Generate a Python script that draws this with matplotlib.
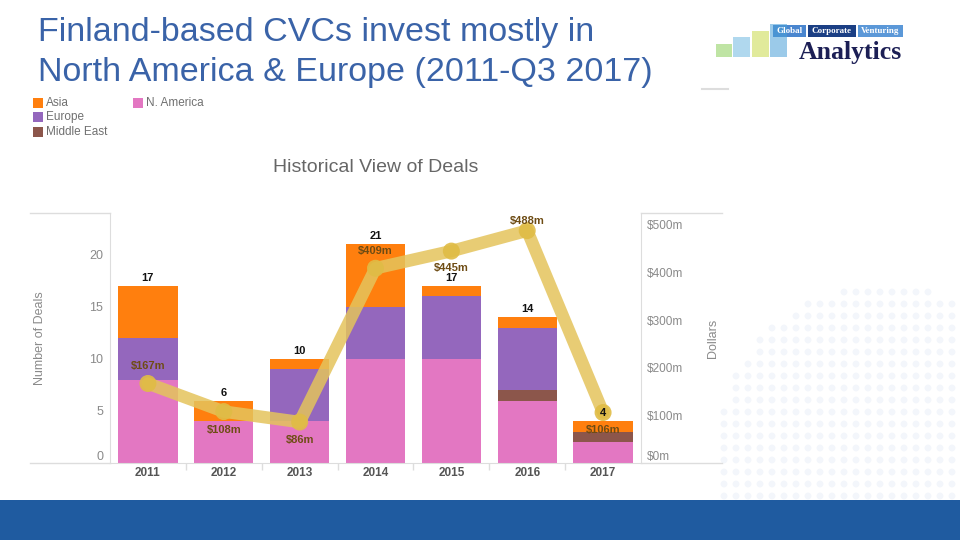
import matplotlib
matplotlib.use("Agg")
import matplotlib.pyplot as plt
from matplotlib.lines import Line2D
from matplotlib.patches import Rectangle
import numpy as np

years = ["2011", "2012", "2013", "2014", "2015", "2016", "2017"]
n_america = [8, 4, 4, 10, 10, 6, 2]
middle_east = [0, 0, 0, 0, 0, 1, 1]
europe = [4, 0, 5, 5, 6, 6, 0]
asia = [5, 2, 1, 6, 1, 1, 1]
dollars = [167, 108, 86, 409, 445, 488, 106]
dollar_labels = ["$167m", "$108m", "$86m", "$409m", "$445m", "$488m", "$106m"]
right_ticks = [0, 100, 200, 300, 400, 500]
right_tick_labels = ["$0m", "$100m", "$200m", "$300m", "$400m", "$500m"]

C_ASIA = "#FF7F0E"
C_EU = "#9467BD"
C_ME = "#8C564B"
C_NA = "#E377C2"
C_LINE = "#E4C45C"
GRAY = "#8a8a8a"

plt.rcParams['font.family'] = ['Liberation Sans', 'DejaVu Sans']

fig = plt.figure(figsize=(9.6, 5.4), dpi=100)
fig.patch.set_facecolor("white")

W, H = 960, 540
def fx(x): return x / W
def fy(y): return 1 - y / H

# faint globe decoration (bottom right)
bg = fig.add_axes([0, 0, 1, 1], zorder=-5)
bg.set_xlim(0, W)
bg.set_ylim(H, 0)
bg.axis("off")
cx, cy, r = 885, 455, 170
gx, gy = np.meshgrid(np.arange(700, 960, 12), np.arange(280, 500, 12))
mask = (gx - cx) ** 2 + (gy - cy) ** 2 < r ** 2
bg.scatter(gx[mask], gy[mask], s=24, color="#f3f6fb", edgecolors="none")

# Bottom band
fig.add_artist(Rectangle((0, 0), 1, fy(500), transform=fig.transFigure,
                         facecolor="#1F5BA0", edgecolor="none"))

# Title
fig.text(fx(38), fy(33), "Finland-based CVCs invest mostly in",
         color="#3A63A8", fontsize=24.5, va="center", ha="left")
fig.text(fx(38), fy(72), "North America & Europe (2011-Q3 2017)",
         color="#3A63A8", fontsize=24.5, va="center", ha="left")

# Logo
tabs = [("Global", 773, 806, "#4a86cf"), ("Corporate", 808, 856, "#1b3f84"), ("Venturing", 858, 903, "#5b98d8")]
for t, x0, x1, c in tabs:
    fig.add_artist(Rectangle((fx(x0), fy(37)), fx(x1 - x0), (37 - 25) / H,
                             transform=fig.transFigure, facecolor=c, edgecolor="none"))
    fig.text(fx((x0 + x1) / 2), fy(31), t, color="white", fontsize=6.5, ha="center", va="center",
             family="Liberation Serif", weight="bold")
fig.text(fx(850), fy(59), "Analytics", color="#1c1f55", fontsize=18.5, ha="center", va="baseline",
         family="Liberation Serif", weight="bold")
mosaic = [(716, 44, 57, 16, "#8ccf5a"), (733, 37, 57, 17, "#6fb8e0"), (752, 31, 57, 17, "#c9d94a"),
          (770, 24, 57, 17, "#4aa0d8")]
for x0, yt, yb, w, c in mosaic:
    fig.add_artist(Rectangle((fx(x0), fy(yb)), fx(w), (yb - yt) / H, transform=fig.transFigure,
                             facecolor=c, edgecolor="none", alpha=0.55))
fig.add_artist(Line2D([fx(702), fx(728)], [fy(89), fy(89)], transform=fig.transFigure,
                      color="#dddddd", lw=1.5))

# Legend
leg = [("Asia", C_ASIA, 33, 103), ("Europe", C_EU, 33, 117), ("Middle East", C_ME, 33, 132),
       ("N. America", C_NA, 133, 103)]
for t, c, x, y in leg:
    fig.add_artist(Rectangle((fx(x), fy(y + 5)), fx(10), 10 / H, transform=fig.transFigure,
                             facecolor=c, edgecolor="none"))
    fig.text(fx(x + 13), fy(y), t, color="#707070", fontsize=8.5, va="center", ha="left")

# Chart title
fig.text(fx(376), fy(168), "Historical View of Deals", color="#666666", fontsize=14,
         ha="center", va="center")

# Main axes
ax = fig.add_axes([fx(110), fy(463), fx(641 - 110), (463 - 213) / H])
x = np.arange(len(years))
bw = 0.78
bottom = np.zeros(len(years))
for vals, c in [(n_america, C_NA), (middle_east, C_ME), (europe, C_EU), (asia, C_ASIA)]:
    ax.bar(x, vals, bw, bottom=bottom, color=c, edgecolor="none", zorder=2)
    bottom += np.array(vals)
totals = bottom

ax.set_xlim(-0.5, 6.5)
ax.set_ylim(0, 24)
ax.set_yticks([0, 5, 10, 15, 20])
ax.tick_params(axis="y", length=0, labelsize=9, labelcolor=GRAY, pad=5)
ax.get_yticklabels()[0].set_va("bottom")
ax.set_xticks(x)
ax.set_xticklabels(years, fontsize=8.5, weight="bold", color="#555555")
ax.tick_params(axis="x", length=0, pad=3)
ax.set_xticks(np.arange(0.5, 6.5, 1), minor=True)
ax.tick_params(axis="x", which="minor", length=5, color="#dddddd", width=1)
for s in ["top", "right"]:
    ax.spines[s].set_visible(False)
ax.spines["left"].set_color("#dddddd")
ax.spines["bottom"].set_color("#dddddd")
ax.set_ylabel("Number of Deals", color=GRAY, fontsize=9)
ax.yaxis.set_label_coords(-0.12, 0.5)

# Right axis
ax2 = ax.twinx()
ax2.set_ylim(0, 525)
ax2.plot(x, dollars, color=C_LINE, lw=9, alpha=0.85, solid_capstyle="round", zorder=3)
ax2.scatter(x, dollars, s=150, color="#E0BC45", alpha=0.9, zorder=4, edgecolors="none")
ax2.set_yticks(right_ticks)
ax2.set_yticklabels(right_tick_labels)
ax2.tick_params(axis="y", length=0, labelsize=8.5, labelcolor=GRAY, pad=4)
ax2.get_yticklabels()[0].set_va("bottom")
for s in ["top", "left", "bottom"]:
    ax2.spines[s].set_visible(False)
ax2.spines["right"].set_color("#dddddd")
ax2.set_ylabel("Dollars", color=GRAY, fontsize=9)
ax2.yaxis.set_label_coords(1.125, 0.5)

# total labels (drawn above the line)
for i, t in enumerate(totals):
    ax2.annotate(f"{int(t)}", (x[i], t), xycoords=ax.transData, xytext=(0, 8),
                 textcoords="offset pixels", ha="center", va="center", fontsize=8,
                 weight="bold", color="#111111", zorder=8)

offsets = [(0, 17), (0, -18), (0, -18), (0, 17), (0, -17), (0, 10), (0, -17)]
for i, (lab, off) in enumerate(zip(dollar_labels, offsets)):
    ax2.annotate(lab, (x[i], dollars[i]), xytext=off, textcoords="offset pixels",
                 ha="center", va="center", fontsize=8, weight="bold", color="#6e4c14", zorder=7)

# frame lines of the axis regions
for (xa, xb, y) in [(30, 110, 213), (30, 110, 463), (641, 722, 213), (641, 722, 463)]:
    fig.add_artist(Line2D([fx(xa), fx(xb)], [fy(y), fy(y)], transform=fig.transFigure,
                          color="#dddddd", lw=1))

fig.savefig("out.png", dpi=100)
